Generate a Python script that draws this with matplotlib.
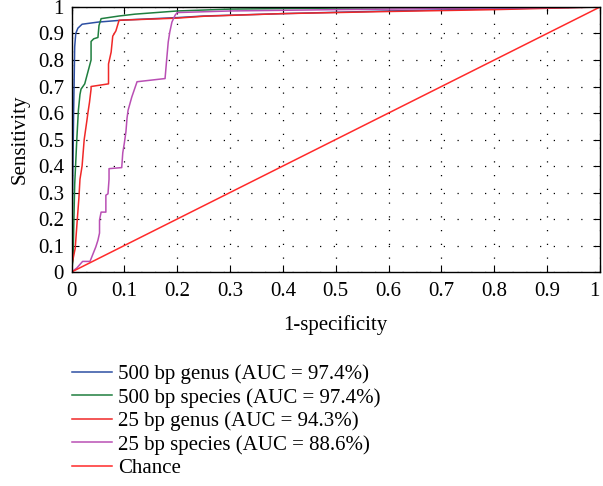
import matplotlib
matplotlib.use("Agg")
import matplotlib.pyplot as plt

plt.rcParams["font.family"] = ["Liberation Serif", "DejaVu Serif"]

# ROC curves (1-specificity, sensitivity)
genus500_x = [0, 0.002, 0.004, 0.006, 0.008, 0.012, 0.02, 0.05, 0.1, 0.2, 0.25, 0.4, 0.6, 0.8, 1]
genus500_y = [0, 0.3, 0.6, 0.85, 0.9, 0.92, 0.935, 0.943, 0.951, 0.96, 0.966, 0.975, 0.985, 0.993, 1]

species500_x = [0, 0.003, 0.004, 0.006, 0.01, 0.013, 0.016, 0.018, 0.025, 0.033, 0.037, 0.037,
                0.042, 0.05, 0.052, 0.056, 0.09, 0.12, 0.2, 0.3, 0.5, 0.8, 1]
species500_y = [0, 0.05, 0.15, 0.33, 0.5, 0.61, 0.67, 0.69, 0.71, 0.77, 0.8, 0.87,
                0.88, 0.885, 0.93, 0.956, 0.966, 0.973, 0.985, 0.992, 0.996, 0.999, 1]

genus25_x = [0, 0.001, 0.007, 0.011, 0.014, 0.016, 0.02, 0.024, 0.029, 0.031, 0.034, 0.037, 0.037,
             0.07, 0.07, 0.075, 0.078, 0.084, 0.087, 0.09, 0.2, 0.25, 0.4, 0.6, 0.8, 1]
genus25_y = [0, 0.03, 0.09, 0.2, 0.28, 0.35, 0.4, 0.5, 0.57, 0.6, 0.64, 0.69, 0.7,
             0.71, 0.785, 0.83, 0.89, 0.91, 0.93, 0.95, 0.958, 0.965, 0.975, 0.983, 0.99, 1]

species25_x = [0, 0.01, 0.021, 0.035, 0.037, 0.046, 0.05, 0.053, 0.053, 0.056, 0.065, 0.065, 0.069,
               0.071, 0.071, 0.095, 0.097, 0.1, 0.103, 0.105, 0.107, 0.114, 0.124, 0.177, 0.18,
               0.183, 0.186, 0.19, 0.196, 0.2, 0.3, 0.5, 0.8, 1]
species25_y = [0, 0.015, 0.04, 0.04, 0.05, 0.095, 0.12, 0.147, 0.196, 0.226, 0.226, 0.29, 0.295,
               0.35, 0.39, 0.394, 0.45, 0.487, 0.53, 0.58, 0.61, 0.66, 0.718, 0.73, 0.8,
               0.868, 0.906, 0.943, 0.969, 0.979, 0.985, 0.99, 0.996, 1]

chance = [0, 1]

labels = ["500 bp genus (AUC = 97.4%)", "500 bp species (AUC = 97.4%)",
          "25 bp genus (AUC = 94.3%)", "25 bp species (AUC = 88.6%)", "Chance"]
ticks = [i / 10 for i in range(11)]
tick_labels = ["0", "0.1", "0.2", "0.3", "0.4", "0.5", "0.6", "0.7", "0.8", "0.9", "1"]

fig = plt.figure(figsize=(6.03, 4.86), dpi=100)
ax = fig.add_axes([0.1186, 0.4403, 0.8764, 0.5453])

ax.plot(genus500_x, genus500_y, color="#2d4fa3", lw=1.1, label=labels[0])
ax.plot(species500_x, species500_y, color="#1f7f3f", lw=1.1, label=labels[1])
ax.plot(genus25_x, genus25_y, color="#f02828", lw=1.1, label=labels[2])
ax.plot(species25_x, species25_y, color="#b94fb4", lw=1.1, label=labels[3])
ax.plot(chance, chance, color="#ff2a2a", lw=1.1, label=labels[4])

ax.set_xlim(0, 1)
ax.set_ylim(0, 1)
ax.set_xticks(ticks)
ax.set_xticklabels(tick_labels)
ax.set_yticks(ticks)
ax.set_yticklabels(tick_labels)
ax.tick_params(direction="in", top=True, right=True, length=5, labelsize=15)
ax.tick_params(axis="x", pad=7.5)
ax.tick_params(axis="y", pad=5.5)
# keep the last "1" inside the figure edge
ax.get_xticklabels()[-1].set_horizontalalignment("right")
ax.grid(True, color="black", linestyle=(0, (1, 10)), linewidth=0.9)
for s in ax.spines.values():
    s.set_linewidth(1.0)

ax.set_xlabel("1-specificity", fontsize=15, labelpad=9.5)
ax.set_ylabel("Sensitivity", fontsize=15, labelpad=6)

fig.legend(loc="upper left", bbox_to_anchor=(0.1194, 0.250), frameon=False, fontsize=15,
           handlelength=1.92, handletextpad=0.29, labelspacing=0.18, borderpad=0,
           borderaxespad=0)

plt.savefig("out.png", dpi=100)
